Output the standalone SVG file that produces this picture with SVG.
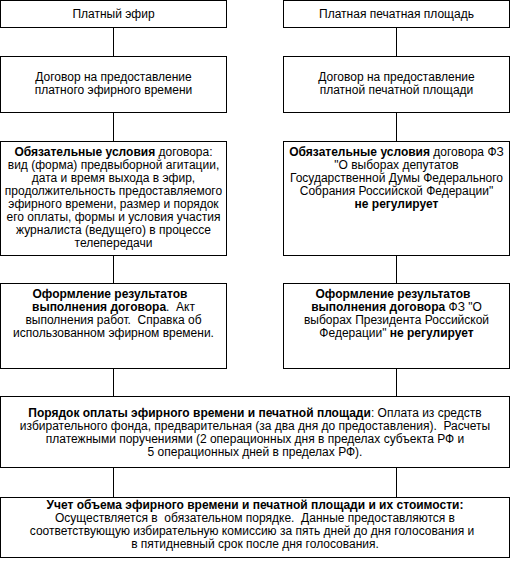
<svg xmlns="http://www.w3.org/2000/svg" width="510" height="569" viewBox="0 0 510 569">
<style>
  rect.box { fill: #ffffff; stroke: #000000; stroke-width: 1; }
  line.conn { stroke: #000000; stroke-width: 1; }
  text { font-family: "Liberation Sans", Arial, sans-serif; font-size: 12px; fill: #000000; text-anchor: middle; white-space: pre; }
  .b { font-weight: bold; }
</style>
<rect width="510" height="569" fill="#ffffff"/>
<g id="connectors">
  <line class="conn" x1="113.5" y1="27.5" x2="113.5" y2="56.5"/>
  <line class="conn" x1="113.5" y1="112.5" x2="113.5" y2="141.5"/>
  <line class="conn" x1="113.5" y1="255.5" x2="113.5" y2="283.5"/>
  <line class="conn" x1="113.5" y1="368.5" x2="113.5" y2="396.5"/>
  <line class="conn" x1="113.5" y1="467.5" x2="113.5" y2="497.5"/>
  <line class="conn" x1="396.5" y1="27.5" x2="396.5" y2="56.5"/>
  <line class="conn" x1="396.5" y1="112.5" x2="396.5" y2="141.5"/>
  <line class="conn" x1="396.5" y1="255.5" x2="396.5" y2="283.5"/>
  <line class="conn" x1="396.5" y1="368.5" x2="396.5" y2="396.5"/>
  <line class="conn" x1="396.5" y1="467.5" x2="396.5" y2="497.5"/>
</g>
<g id="paid-air">
  <rect class="box" x="0.5" y="0.5" width="226" height="27"/>
  <text x="113.5" y="18">Платный эфир</text>
</g>
<g id="paid-print">
  <rect class="box" x="283.5" y="0.5" width="226" height="27"/>
  <text x="396.5" y="18">Платная печатная площадь</text>
</g>
<g id="contract-air">
  <rect class="box" x="0.5" y="56.5" width="226" height="56"/>
  <text x="113.5" y="81">Договор на предоставление</text>
  <text x="113.5" y="94">платного эфирного времени</text>
</g>
<g id="contract-print">
  <rect class="box" x="283.5" y="56.5" width="226" height="56"/>
  <text x="396.5" y="81">Договор на предоставление</text>
  <text x="396.5" y="94">платной печатной площади</text>
</g>
<g id="terms-air">
  <rect class="box" x="0.5" y="141.5" width="226" height="114"/>
  <text x="113.5" y="156"><tspan class="b">Обязательные условия</tspan> договора:</text>
  <text x="113.5" y="169">вид (форма) предвыборной агитации,</text>
  <text x="113.5" y="182">дата и время выхода в эфир,</text>
  <text x="113.5" y="195">продолжительность предоставляемого</text>
  <text x="113.5" y="208">эфирного времени, размер и порядок</text>
  <text x="113.5" y="221">его оплаты, формы и условия участия</text>
  <text x="113.5" y="234">журналиста (ведущего) в процессе</text>
  <text x="113.5" y="247">телепередачи</text>
</g>
<g id="terms-print">
  <rect class="box" x="283.5" y="141.5" width="226" height="114"/>
  <text x="396.5" y="156"><tspan class="b">Обязательные условия</tspan> договора ФЗ</text>
  <text x="396.5" y="169">"О выборах депутатов</text>
  <text x="396.5" y="182">Государственной Думы Федерального</text>
  <text x="396.5" y="195">Собрания Российской Федерации"</text>
  <text x="396.5" y="208" class="b">не регулирует</text>
</g>
<g id="results-air">
  <rect class="box" x="0.5" y="283.5" width="226" height="85"/>
  <text x="110" y="298" class="b">Оформление результатов</text>
  <text x="113.5" y="311"><tspan class="b">выполнения договора</tspan>.  Акт</text>
  <text x="113.5" y="324">выполнения работ.  Справка об</text>
  <text x="113.5" y="337">использованном эфирном времени.</text>
</g>
<g id="results-print">
  <rect class="box" x="283.5" y="283.5" width="226" height="85"/>
  <text x="393" y="298" class="b">Оформление результатов</text>
  <text x="396.5" y="311"><tspan class="b">выполнения договора</tspan> ФЗ "О</text>
  <text x="396.5" y="324">выборах Президента Российской</text>
  <text x="396.5" y="337">Федерации" <tspan class="b">не регулирует</tspan></text>
</g>
<g id="payment">
  <rect class="box" x="0.5" y="396.5" width="509" height="71"/>
  <text x="255" y="417"><tspan class="b">Порядок оплаты эфирного времени и печатной площади</tspan>: Оплата из средств</text>
  <text x="255" y="430">избирательного фонда, предварительная (за два дня до предоставления).  Расчеты</text>
  <text x="255" y="443">платежными поручениями (2 операционных дня в пределах субъекта РФ и</text>
  <text x="255" y="456">5 операционных дней в пределах РФ).</text>
</g>
<g id="accounting">
  <rect class="box" x="0.5" y="497.5" width="509" height="60"/>
  <text x="255" y="509" class="b">Учет объема эфирного времени и печатной площади и их стоимости:</text>
  <text x="255" y="522">Осуществляется в  обязательном порядке.  Данные предоставляются в</text>
  <text x="252" y="535">соответствующую избирательную комиссию за пять дней до дня голосования и</text>
  <text x="255" y="548">в пятидневный срок после дня голосования.</text>
</g>
</svg>
